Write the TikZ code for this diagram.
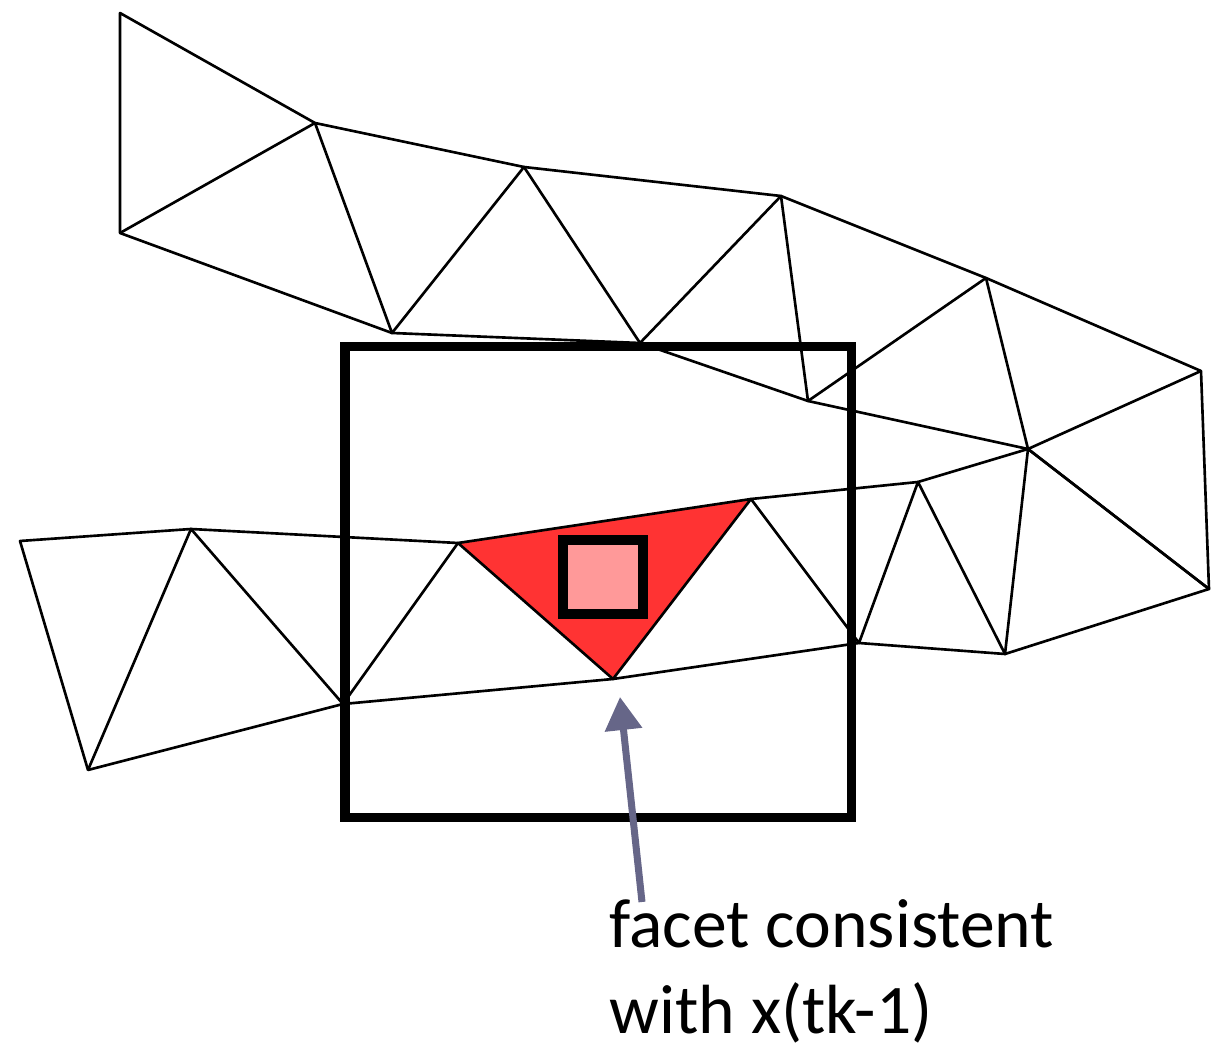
\documentclass[tikz,border=0pt]{standalone}
\usepackage{fontspec}
\setmainfont{Carlito}
\usetikzlibrary{arrows.meta}
\definecolor{facetred}{RGB}{255,51,51}
\definecolor{boxpink}{RGB}{255,153,153}
\definecolor{arrowgray}{RGB}{102,102,136}
\begin{document}
\begin{tikzpicture}[x=0.01cm, y=-0.01cm,
      mesh/.style={draw=black,line width=0.75pt,line join=round},
      frame/.style={draw=black,line width=0.09cm},
      pointer/.style={-{Triangle[width=0.36cm,length=0.33cm]},draw=arrowgray,line width=0.07cm},
      lbl/.style={anchor=base west,inner sep=0pt,font=\fontsize{19.8}{25.6}\selectfont}
    ]
      \useasboundingbox (0,0) rectangle (1211,1052);
      % upper strip
      \coordinate (a1) at (120,13);
      \coordinate (a2) at (120,233);
      \coordinate (a3) at (315,123);
      \coordinate (a4) at (392,333);
      \coordinate (a5) at (524,167);
      \coordinate (a6) at (640,343);
      \coordinate (a7) at (781,196);
      \coordinate (a8) at (808,401);
      \coordinate (a9) at (986,278);
      \coordinate (a10) at (1028,449);
      \coordinate (a11) at (1201,371);
      \coordinate (a12) at (1209,589);
      % lower strip
      \coordinate (b1) at (20,541);
      \coordinate (b2) at (88,770);
      \coordinate (b3) at (191,529);
      \coordinate (b4) at (343,704);
      \coordinate (b5) at (458,543);
      \coordinate (b6) at (613,679);
      \coordinate (b7) at (751,499);
      \coordinate (b8) at (859,643);
      \coordinate (b9) at (918,482);
      \coordinate (b10) at (1005,654);

      \fill[facetred] (b5) -- (b7) -- (b6) -- cycle;
      \draw[mesh] (a1) -- (a3) -- (a5) -- (a7) -- (a9) -- (a11) -- (a12) -- (a10) -- (a8) -- (a6) -- (a4) -- (a2) -- cycle;
      \draw[mesh] (a2) -- (a3) -- (a4) -- (a5) -- (a6) -- (a7) -- (a8) -- (a9) -- (a10) -- (a11);
      \draw[mesh] (b1) -- (b3) -- (b5) -- (b7) -- (b9) -- (a10) -- (a12) -- (b10) -- (b8) -- (b6) -- (b4) -- (b2) -- cycle;
      \draw[mesh] (b2) -- (b3) -- (b4) -- (b5) -- (b6) -- (b7) -- (b8) -- (b9) -- (b10) -- (a10);

      \draw[frame,line width=0.1cm,fill=boxpink] (563,540) rectangle (643,614);
      \draw[frame] (345,347) rectangle (851,818);

      \node[lbl] (line1) at (609,948) {facet consistent};
      \node[lbl] (line2) at (609,1034) {with x(tk-1)};
      \coordinate (tail) at (642,902);
      \coordinate (tip) at (620,697);
      \draw[pointer] (tail) -- (tip);
    \end{tikzpicture}
\end{document}
